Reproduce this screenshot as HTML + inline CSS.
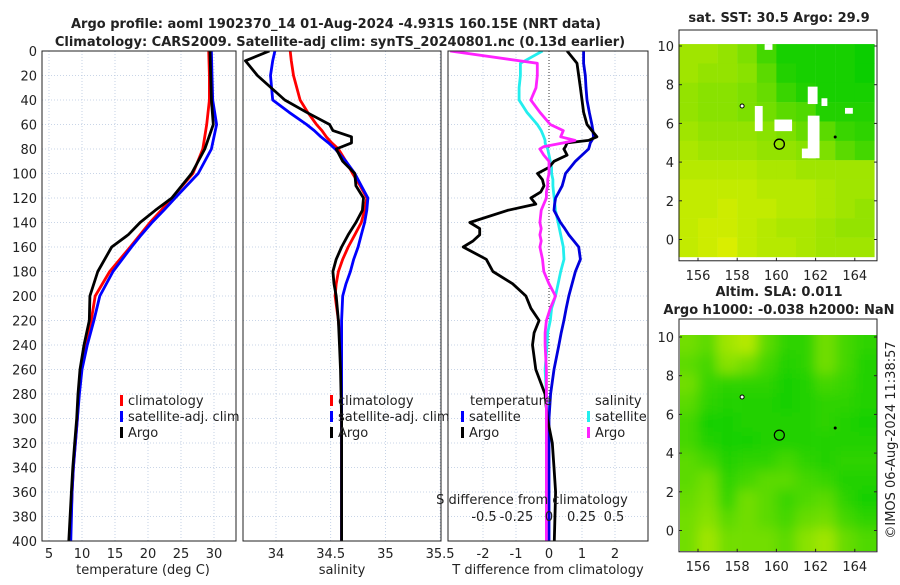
<!DOCTYPE html>
<html><head><meta charset="utf-8"><style>
body{margin:0;background:#fff;}
svg text{font-family:"DejaVu Sans","Liberation Sans",sans-serif;font-size:13px;fill:#222;}
.b{font-weight:bold;}
</style></head><body>
<svg id="s" width="900" height="580" xmlns="http://www.w3.org/2000/svg">
<defs><filter id="bl"><feGaussianBlur stdDeviation="6"/></filter>
<clipPath id="c1"><rect x="42" y="51" width="194" height="490"/></clipPath>
<clipPath id="c2"><rect x="243" y="51" width="198" height="490"/></clipPath>
<clipPath id="c3"><rect x="448" y="51" width="200" height="490"/></clipPath>
<clipPath id="cm2"><rect x="680" y="335" width="197" height="216"/></clipPath>
</defs>
<text class="b" x="336" y="28" text-anchor="middle">Argo profile: aoml 1902370_14 01-Aug-2024 -4.931S 160.15E (NRT data)</text>
<text class="b" x="340" y="46" text-anchor="middle">Climatology: CARS2009. Satellite-adj clim: synTS_20240801.nc (0.13d earlier)</text>
<text class="b" x="779" y="22" text-anchor="middle">sat. SST: 30.5 Argo: 29.9</text>
<text class="b" x="779" y="296" text-anchor="middle">Altim. SLA: 0.011</text>
<text class="b" x="779" y="314" text-anchor="middle">Argo h1000: -0.038 h2000: NaN</text>
<text x="0" y="0" transform="translate(895,440) rotate(-90)" text-anchor="middle">©IMOS 06-Aug-2024 11:38:57</text>
<g id="g"></g>
</svg>
<script>
const depths=[0,20,40,60,80,100,120,130,140,150,160,180,200,220,240,260,280,300,320,340,360,400];
const tClim=[29.2,29.3,29.3,28.9,28.3,26.8,23.6,22.0,20.3,18.8,17.3,14.2,12.0,11.4,10.5,9.8,9.5,9.3,9.0,8.7,8.5,8.2];
const tSat=[29.6,29.7,29.8,30.4,29.6,27.6,24.1,22.4,20.6,19.0,17.5,14.7,12.7,11.8,10.8,10.0,9.6,9.3,9.0,8.7,8.5,8.3];
const tArgo=[29.4,29.5,29.6,29.9,28.6,26.6,23.6,21.1,18.8,17.0,14.5,12.4,11.2,11.1,10.3,9.7,9.4,9.2,8.9,8.6,8.4,8.0];
const sDepths=[0,8,20,40,50,60,65,70,75,80,90,100,110,120,130,140,150,160,170,180,190,200,220,240,260,300,400];
const sClim=[34.13,34.14,34.16,34.22,34.29,34.37,34.42,34.46,34.51,34.57,34.64,34.70,34.77,34.83,34.81,34.78,34.72,34.66,34.61,34.57,34.55,34.54,34.57,34.59,34.6,34.6,34.6];
const sSat=[33.99,33.97,33.95,33.97,34.12,34.28,34.35,34.41,34.48,34.54,34.64,34.72,34.78,34.84,34.83,34.81,34.78,34.75,34.71,34.68,34.64,34.61,34.6,34.6,34.6,34.6,34.6];
const sArgo=[33.94,33.72,33.83,34.08,34.28,34.49,34.52,34.69,34.69,34.55,34.61,34.72,34.73,34.80,34.79,34.73,34.66,34.60,34.55,34.52,34.53,34.55,34.57,34.58,34.59,34.6,34.6];
const dDepths=[0,10,20,30,40,50,60,65,70,73,75,78,80,85,90,95,100,105,110,115,120,125,130,140,145,150,155,160,170,180,190,200,210,220,230,240,260,280,300,320,340,360,400];
const dtArgo=[0.55,0.85,0.9,0.95,1.0,1.05,1.15,1.3,1.45,1.2,0.55,0.5,0.45,0.55,0.15,0.0,-0.35,-0.2,-0.15,-0.25,-0.55,-0.4,-1.25,-2.4,-2.1,-2.1,-2.3,-2.6,-1.9,-1.7,-1.1,-0.7,-0.55,-0.3,-0.45,-0.5,-0.4,-0.12,-0.05,0.1,0.15,0.2,0.16];
const dtSat=[1.05,1.05,1.1,1.12,1.15,1.22,1.3,1.33,1.35,1.3,1.25,1.22,1.2,1.0,0.8,0.65,0.5,0.45,0.4,0.3,0.2,0.17,0.15,0.35,0.48,0.6,0.75,0.9,0.95,0.8,0.7,0.6,0.52,0.45,0.37,0.3,0.15,0.05,0.0,0.0,0.0,0.0,0.0];
const dsSat=[-0.05,-0.22,-0.22,-0.23,-0.23,-0.17,-0.09,-0.06,-0.04,-0.03,-0.03,-0.02,-0.01,0.0,0.01,0.02,0.02,0.03,0.03,0.035,0.04,0.045,0.05,0.07,0.08,0.09,0.1,0.11,0.115,0.09,0.07,0.05,0.02,0.01,-0.01,-0.015,-0.03,-0.02,-0.01,-0.01,-0.01,-0.01,-0.01];
const dsArgo=[-0.76,-0.09,-0.09,-0.1,-0.14,-0.07,0.01,0.11,0.09,0.2,0.11,-0.04,-0.07,-0.04,0.0,0.0,0.0,-0.01,-0.01,-0.02,-0.02,-0.04,-0.06,-0.07,-0.06,-0.07,-0.06,-0.07,-0.05,-0.04,0.0,0.05,0.01,-0.02,-0.03,-0.03,-0.02,-0.02,-0.02,-0.02,-0.02,-0.02,-0.02];
const depthTicks=[0,20,40,60,80,100,120,140,160,180,200,220,240,260,280,300,320,340,360,380,400];
const tTicks=[5,10,15,20,25,30];
const sTicks=[34,34.5,35,35.5];
const dTicks=[-2,-1,0,1,2];
const dsTicks=[-0.5,-0.25,0,0.25,0.5];
const sstGrid=[[.3,.3,.35,.45,.7,.9,.9,.9,.9,.95],[.3,.35,.35,.4,.6,.85,.9,.9,.9,.95],[.35,.4,.4,.45,.55,.75,.85,.9,.9,.9],[.35,.4,.4,.45,.5,.6,.65,.85,.85,.85],[.3,.35,.35,.35,.4,.45,.55,.6,.75,.8],[.25,.3,.3,.3,.35,.35,.4,.45,.6,.7],[.2,.2,.2,.2,.25,.25,.3,.3,.3,.3],[.15,.15,.15,.15,.2,.2,.2,.25,.3,.3],[.15,.15,.1,.15,.15,.2,.2,.25,.3,.35],[.15,.1,.1,.15,.2,.25,.25,.3,.35,.35],[.15,.1,.05,.15,.2,.2,.25,.3,.3,.3]];
const slaGrid=[[.5,.6,.3,.2,.6,.8,.8,.5,.7,.8],[.6,.7,.4,.5,.7,.85,.8,.5,.7,.85],[.5,.75,.8,.8,.8,.9,.85,.7,.75,.85],[.6,.8,.85,.85,.85,.9,.85,.8,.8,.85],[.7,.9,.9,.85,.85,.85,.85,.8,.85,.9],[.7,.85,.9,.9,.85,.85,.85,.85,.85,.85],[.6,.7,.85,.8,.8,.7,.8,.85,.8,.8],[.6,.5,.8,.7,.6,.6,.7,.75,.85,.85],[.55,.45,.75,.5,.6,.75,.65,.6,.8,.9],[.5,.4,.6,.5,.6,.7,.55,.5,.7,.8],[.5,.3,.5,.5,.5,.6,.4,.3,.55,.65]];
const lonTicks=[156,158,160,162,164];
const latTicks=[0,2,4,6,8,10];

const NS='http://www.w3.org/2000/svg';
const G=document.getElementById('g');
function mk(tag,attrs,parent){const e=document.createElementNS(NS,tag);for(const k in attrs)e.setAttribute(k,attrs[k]);(parent||G).appendChild(e);return e;}
function txt(x,y,s,anchor){const e=mk('text',{x:x,y:y,'text-anchor':anchor||'middle'});e.textContent=s;return e;}
const Y=d=>51+d*1.225;
const X1=t=>49+(t-5)*6.6;
const X2=s=>276+(s-34)*109.4;
const X3=t=>549+t*33;
const XS=s=>549+s*130;
const panels=[[42,194,'c1'],[243,198,'c2'],[448,200,'c3']];
panels.forEach((p,i)=>{
  depthTicks.forEach(d=>{const l=mk('line',{x1:p[0],x2:p[0]+p[1],y1:Y(d),y2:Y(d),stroke:'#b8c8e0','stroke-width':0.8,'stroke-dasharray':'1,2'});
  
  });
});
function vgrid(ticks,f,name){ticks.forEach(t=>{const l=mk('line',{x1:f(t),x2:f(t),y1:51,y2:541,stroke:'#b8c8e0','stroke-width':0.8,'stroke-dasharray':'1,2'});


const tl=txt(f(t),558,String(t));

});}
vgrid(tTicks,X1,'temp-gridline');
vgrid(sTicks,X2,'sal-gridline');
vgrid(dTicks,X3,'tdiff-gridline');
mk('line',{x1:549,x2:549,y1:51,y2:541,stroke:'#333','stroke-width':1,'stroke-dasharray':'1,2'});
depthTicks.forEach(d=>{const e=txt(37,Y(d)+5,String(d),'end');

});
function line(xs,ys,fx,color,clip,name){const pts=xs.map((v,i)=>fx(v).toFixed(1)+','+Y(ys[i]).toFixed(1)).join(' ');
const e=mk('polyline',{points:pts,fill:'none',stroke:color,'stroke-width':2.8,'stroke-linejoin':'round','clip-path':'url(#'+clip+')'});

}
line(tClim,depths,X1,'#ff0000','c1','temp-climatology-line');
line(tSat,depths,X1,'#0000ff','c1','temp-satellite-line');
line(tArgo,depths,X1,'#000','c1','temp-argo-line');
line(sClim,sDepths,X2,'#ff0000','c2','sal-climatology-line');
line(sSat,sDepths,X2,'#0000ff','c2','sal-satellite-line');
line(sArgo,sDepths,X2,'#000','c2','sal-argo-line');
line(dsSat,dDepths,XS,'#22eeee','c3','sdiff-satellite-line');
line(dtSat,dDepths,X3,'#0000dd','c3','tdiff-satellite-line');
line(dtArgo,dDepths,X3,'#000','c3','tdiff-argo-line');
line(dsArgo,dDepths,XS,'#ff22ff','c3','sdiff-argo-line');
panels.forEach(p=>{const r=mk('rect',{x:p[0],y:51,width:p[1],height:490,fill:'none',stroke:'#222','stroke-width':1});

});
function leg(x,y,color,label){const r=mk('rect',{x:x,y:y-10,width:3,height:11,fill:color});


const t=txt(x+8,y,label,'start');

}
leg(120,405,'#ff0000','climatology');leg(120,421,'#0000ff','satellite-adj. clim');leg(120,437,'#000','Argo');
leg(330,405,'#ff0000','climatology');leg(330,421,'#0000ff','satellite-adj. clim');leg(330,437,'#000','Argo');
{const t=txt(470,405,'temperature','start');}
{const t=txt(595,405,'salinity','start');}
leg(461,421,'#0000ff','satellite');leg(461,437,'#000','Argo');
leg(587,421,'#22eeee','satellite');leg(587,437,'#ff22ff','Argo');
{const t=txt(532,504,'S difference from climatology');}
dsTicks.forEach(s=>{const t=txt(XS(s),521,String(s));});
{const t=txt(143,574,'temperature (deg C)');}
{const t=txt(342,574,'salinity');}
{const t=txt(548,574,'T difference from climatology');}

function col(v){return 'rgb('+Math.round(228*(1-v))+','+Math.round(240-36*v)+',0)';}
function map(top,frameTop,grid,name,blur){
  const LX=lon=>698+(lon-156)*19.6;
  const LY=lat=>top+(10-lat)*19.35;
  const g=mk('g',blur?{'clip-path':'url(#cm2)'}:{});
  
  
  const inner=mk('g',blur?{filter:'url(#bl)'}:{},g);
  const nR=grid.length,nC=grid[0].length;
  grid.forEach((row,ri)=>row.forEach((v,ci)=>{
    let x0=LX(155+ci),y0=LY(10.1-ri),w=19.8,h=19.6;
    if(blur){if(ci===0){x0-=25;w+=25;} if(ci===nC-1){w+=25;} if(ri===0){y0-=25;h+=25;} if(ri===nR-1){h+=25;}}
    const r=mk('rect',{x:x0,y:y0,width:w,height:h,fill:col(v)},inner);
    
    
  }));
  const f=mk('rect',{x:679,y:frameTop,width:198,height:(LY(-1.1)-frameTop),fill:'none',stroke:'#222','stroke-width':1});
  
  
  lonTicks.forEach(l=>{const t=txt(LX(l),LY(-1.1)+19,String(l));
  mk('line',{x1:LX(l),x2:LX(l),y1:LY(-1.1),y2:LY(-1.1)-3,stroke:'#222'});});
  latTicks.forEach(l=>{const t=txt(674,LY(l)+5,String(l),'end');
  mk('line',{x1:679,x2:682,y1:LY(l),y2:LY(l),stroke:'#222'});mk('line',{x1:874,x2:877,y1:LY(l),y2:LY(l),stroke:'#222'});});
  const c=mk('circle',{cx:LX(160.15),cy:LY(4.93),r:5,fill:'none',stroke:'#000','stroke-width':1.2});
  
  
  mk('circle',{cx:LX(158.25),cy:LY(6.9),r:2,fill:'#fff',stroke:'#000','stroke-width':1});
  mk('circle',{cx:LX(163),cy:LY(5.3),r:1.5,fill:'#000'});
  return LX;
}
// white gaps (missing SST data) on top map, drawn before frame via separate call order
map(46,30,sstGrid,'sst-map',false);
[[158.9,6.9,0.4,1.3],[159.9,6.2,0.9,0.6],[161.6,6.4,0.6,2.2],[161.3,4.7,0.7,0.5],[161.6,7.9,0.5,0.9],[162.3,7.3,0.3,0.4],[163.5,6.8,0.4,0.3],[159.4,10.1,0.4,0.3]].forEach(w=>{
  const r=mk('rect',{x:698+(w[0]-156)*19.6,y:46+(10-w[1])*19.35,width:w[2]*19.6,height:w[3]*19.35,fill:'#fff'});
  
  
});
mk('circle',{cx:698+4.15*19.6,cy:46+5.07*19.35,r:5,fill:'none',stroke:'#000','stroke-width':1.2});
map(337,319,slaGrid,'sla-map',true);
</script>
</body></html>
